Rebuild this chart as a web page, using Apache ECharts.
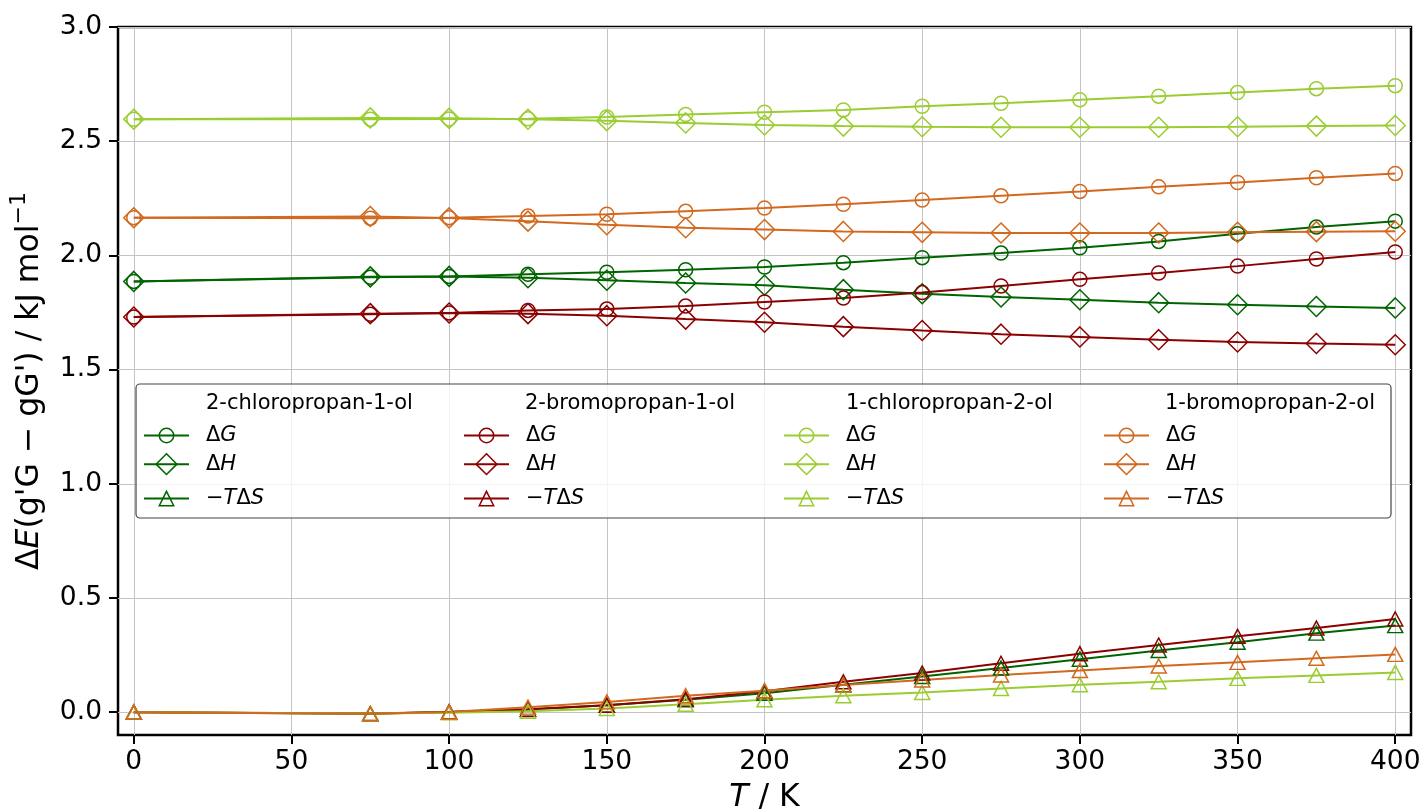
<!DOCTYPE html>
<html><head><meta charset="utf-8">
<script src="https://cdn.jsdelivr.net/npm/echarts@6/dist/echarts.min.js"></script>
<style>html,body{margin:0;padding:0;background:#fff}#c{width:1426px;height:809px}</style>
</head><body><div id="c"></div>
<script>
// ---- data ----
const temperatures = [0, 75, 100, 125, 150, 175, 200, 225, 250, 275, 300, 325, 350, 375, 400];
const xTicks = [0, 50, 100, 150, 200, 250, 300, 350, 400];
const yTicks = [0, 0.5, 1.0, 1.5, 2.0, 2.5, 3.0];
const molecules = ['2-chloropropan-1-ol', '2-bromopropan-1-ol', '1-chloropropan-2-ol', '1-bromopropan-2-ol'];
const quantities = ['ΔG', 'ΔH', '−TΔS'];

const chloroPropan1ol_dG = [1.886, 1.904, 1.908, 1.917, 1.926, 1.937, 1.949, 1.968, 1.990, 2.010, 2.033, 2.061, 2.095, 2.124, 2.150];
const chloroPropan1ol_dH = [1.886, 1.906, 1.908, 1.902, 1.891, 1.879, 1.869, 1.850, 1.832, 1.818, 1.806, 1.793, 1.784, 1.776, 1.770];
const chloroPropan1ol_mTdS = [0, -0.007, 0.001, 0.012, 0.030, 0.054, 0.083, 0.120, 0.156, 0.193, 0.232, 0.270, 0.306, 0.346, 0.379];

const bromoPropan1ol_dG = [1.730, 1.742, 1.748, 1.759, 1.765, 1.778, 1.796, 1.813, 1.837, 1.866, 1.895, 1.923, 1.953, 1.984, 2.015];
const bromoPropan1ol_dH = [1.730, 1.745, 1.748, 1.745, 1.736, 1.721, 1.707, 1.688, 1.671, 1.655, 1.643, 1.631, 1.621, 1.614, 1.609];
const bromoPropan1ol_mTdS = [0, -0.006, 0.001, 0.013, 0.030, 0.057, 0.092, 0.133, 0.171, 0.214, 0.256, 0.294, 0.332, 0.368, 0.408];

const chloroPropan2ol_dG = [2.596, 2.596, 2.597, 2.598, 2.606, 2.617, 2.627, 2.637, 2.653, 2.666, 2.681, 2.697, 2.713, 2.730, 2.743];
const chloroPropan2ol_dH = [2.596, 2.602, 2.600, 2.596, 2.590, 2.580, 2.571, 2.566, 2.563, 2.561, 2.561, 2.561, 2.563, 2.566, 2.569];
const chloroPropan2ol_mTdS = [0, -0.006, -0.003, 0.004, 0.016, 0.035, 0.054, 0.072, 0.086, 0.104, 0.120, 0.133, 0.148, 0.161, 0.174];

const bromoPropan2ol_dG = [2.165, 2.163, 2.165, 2.172, 2.180, 2.193, 2.207, 2.224, 2.242, 2.261, 2.280, 2.300, 2.319, 2.340, 2.359];
const bromoPropan2ol_dH = [2.165, 2.170, 2.164, 2.150, 2.134, 2.121, 2.113, 2.105, 2.101, 2.098, 2.098, 2.098, 2.101, 2.104, 2.106];
const bromoPropan2ol_mTdS = [0, -0.007, 0.001, 0.022, 0.045, 0.072, 0.094, 0.119, 0.141, 0.163, 0.182, 0.202, 0.218, 0.236, 0.253];

const seriesValues = [
  [chloroPropan1ol_dG, chloroPropan1ol_dH, chloroPropan1ol_mTdS],
  [bromoPropan1ol_dG, bromoPropan1ol_dH, bromoPropan1ol_mTdS],
  [chloroPropan2ol_dG, chloroPropan2ol_dH, chloroPropan2ol_mTdS],
  [bromoPropan2ol_dG, bromoPropan2ol_dH, bromoPropan2ol_mTdS]
];

// ---- styles ----
const colors = ['#006400', '#8b0000', '#9acd32', '#d2691e'];
const symbols = ['circle', 'diamond', 'triangle'];
const symbolSizes = [14, 20, [15, 14]];
const legendLabels = ['{n|Δ}{i|G}', '{n|Δ}{i|H}', '{n|−}{i|T}{n|Δ}{i|S}'];
const FONT = 'DejaVu Sans';
const LEG_FS = 21;
const richLegend = {
  n: { fontFamily: FONT, fontSize: LEG_FS, color: '#000', lineHeight: 18 },
  i: { fontFamily: FONT, fontSize: LEG_FS, color: '#000', fontStyle: 'italic', lineHeight: 18 }
};

const series = [];
const legends = [];
const colLeft = [143, 463, 783, 1103];
const titleLeft = [206, 525, 846, 1165];
const rowCenter = [434, 466, 497];

molecules.forEach((mol, m) => {
  quantities.forEach((q, k) => {
    const name = mol + ' ' + q;
    series.push({
      type: 'line',
      name: name,
      data: temperatures.map((t, i) => [t, seriesValues[m][k][i]]),
      symbol: symbols[k],
      symbolSize: symbolSizes[k],
      showSymbol: true,
      showAllSymbol: true,
      lineStyle: { color: colors[m], width: 2 },
      itemStyle: { color: 'rgba(0,0,0,0)', borderColor: colors[m], borderWidth: 1.5 },
      emphasis: { disabled: true },
      animation: false
    });
    const ih = k === 1 ? 26 : 18;
    legends.push({
      data: [name],
      orient: 'vertical',
      left: colLeft[m],
      top: rowCenter[k] - ih / 2,
      padding: 0,
      itemWidth: 45,
      itemHeight: ih,
      selectedMode: false,
      formatter: legendLabels[k],
      itemStyle: { color: 'rgba(0,0,0,0)', borderColor: colors[m], borderWidth: 1.5 },
      lineStyle: { color: colors[m], width: 2 },
      textStyle: { fontFamily: FONT, fontSize: LEG_FS, color: '#000', padding: [0, 0, 0, 12], rich: richLegend },
      z: 6
    });
  });
});

const graphics = [{
  type: 'rect',
  shape: { x: 136, y: 384, width: 1255, height: 134, r: 4 },
  style: { fill: 'rgba(255,255,255,0.8)', stroke: '#444', lineWidth: 1.2 },
  z: 3
}];
molecules.forEach((mol, m) => {
  graphics.push({
    type: 'text', x: titleLeft[m], y: 404, z: 6,
    style: { text: mol, fontFamily: FONT, fontSize: LEG_FS, fill: '#000', verticalAlign: 'middle', align: 'left' }
  });
});

const TICK_FS = 26.5;
const TITLE_FS = 31.5;
const chart = echarts.init(document.getElementById('c'), null, { renderer: 'canvas' });
chart.setOption({
  animation: false,
  backgroundColor: '#fff',
  grid: { left: 118, right: 15, top: 27, bottom: 74, outerBoundsMode: 'none', containLabel: false,
          show: true, borderColor: '#000', borderWidth: 2.5, backgroundColor: 'transparent' },
  xAxis: {
    type: 'value', min: -5, max: 405,
    axisLine: { show: false, onZero: false },
    axisTick: { show: true, customValues: xTicks, length: 9, lineStyle: { color: '#000', width: 2 } },
    axisLabel: { customValues: xTicks, fontFamily: FONT, fontSize: TICK_FS, color: '#000', margin: 14 },
    splitLine: { show: true, lineStyle: { color: '#c4c4c4', width: 1 } },
    name: '{i|T}{n| / K}', nameLocation: 'middle', nameGap: 47,
    nameTextStyle: { rich: {
      n: { fontFamily: FONT, fontSize: TITLE_FS, color: '#000' },
      i: { fontFamily: FONT, fontSize: TITLE_FS, color: '#000', fontStyle: 'italic' }
    } }
  },
  yAxis: {
    type: 'value', min: -0.1, max: 3.0,
    axisLine: { show: false, onZero: false },
    axisTick: { show: true, customValues: yTicks, length: 9, lineStyle: { color: '#000', width: 2 } },
    axisLabel: { customValues: yTicks, fontFamily: FONT, fontSize: TICK_FS, color: '#000', margin: 16, formatter: v => v.toFixed(1) },
    splitLine: { show: true, lineStyle: { color: '#c4c4c4', width: 1 } },
    name: "{n|Δ}{i|E}{n|(g'G − gG') / kJ mol}{s|−1}", nameLocation: 'middle', nameGap: 72, nameRotate: 90,
    nameTextStyle: { rich: {
      n: { fontFamily: FONT, fontSize: TITLE_FS, color: '#000', lineHeight: 38, verticalAlign: 'bottom' },
      i: { fontFamily: FONT, fontSize: TITLE_FS, color: '#000', fontStyle: 'italic', lineHeight: 38, verticalAlign: 'bottom' },
      s: { fontFamily: FONT, fontSize: 22, color: '#000', lineHeight: 38, verticalAlign: 'top' }
    } }
  },
  legend: legends,
  graphic: graphics,
  series: series
});
</script>
</body></html>
